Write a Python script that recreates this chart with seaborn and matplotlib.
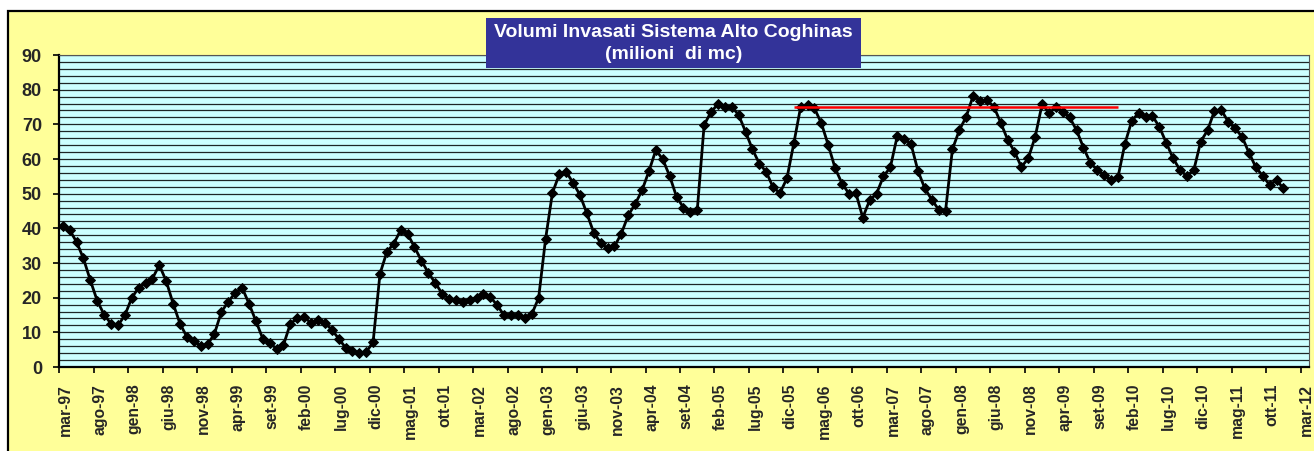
import matplotlib
matplotlib.use("Agg")
import matplotlib.pyplot as plt
import matplotlib.transforms as mtransforms
from matplotlib.patches import Rectangle
import seaborn as sns
import numpy as np
import pandas as pd

# ---- data (monthly volumes, million m3, from mar-97 to dic-11) ----
volumes = [
    40.6, 39.5, 36.1, 31.3, 25.0, 19.1, 15.1, 12.5, 12.0, 14.9,
    19.9, 22.9, 24.1, 25.5, 29.4, 24.8, 18.3, 12.5, 8.7, 7.5,
    6.1, 6.5, 9.6, 15.9, 18.8, 21.4, 22.9, 18.3, 13.3, 8.2,
    6.9, 5.3, 6.3, 12.5, 14.0, 14.4, 12.7, 13.5, 12.7, 10.8,
    8.2, 5.6, 4.6, 3.9, 4.3, 7.2, 26.9, 33.2, 35.6, 39.5,
    38.4, 34.6, 30.7, 27.2, 24.3, 21.2, 19.7, 19.2, 18.8, 19.4,
    19.9, 21.0, 20.2, 17.8, 14.9, 14.9, 14.9, 14.0, 15.2, 19.9,
    36.8, 50.2, 55.6, 56.3, 53.1, 49.6, 44.3, 38.7, 35.8, 34.2,
    34.8, 38.5, 43.8, 47.0, 51.0, 56.5, 62.6, 59.9, 55.1, 49.1,
    46.0, 44.8, 45.2, 69.8, 73.6, 75.8, 74.9, 75.1, 72.7, 67.9,
    62.8, 58.7, 56.3, 51.8, 50.2, 54.4, 64.5, 75.1, 75.6, 74.6,
    70.3, 64.0, 57.3, 52.9, 50.0, 50.2, 43.1, 48.1, 50.0, 55.0,
    57.6, 66.6, 65.9, 64.3, 56.6, 51.5, 48.3, 45.4, 45.0, 62.8,
    68.3, 72.2, 78.2, 76.8, 77.0, 75.1, 70.5, 65.6, 62.1, 57.7,
    60.2, 66.4, 75.8, 73.3, 74.9, 73.6, 72.0, 68.3, 63.3, 58.9,
    56.8, 55.4, 53.9, 54.7, 64.3, 71.0, 73.3, 72.2, 72.4, 69.3,
    64.7, 60.2, 56.8, 55.1, 56.8, 65.0, 68.3, 73.9, 74.1, 70.7,
    68.8, 66.4, 61.8, 57.6, 55.1, 52.5, 53.9, 51.5,
]
tick_labels = [
    "mar-97", "ago-97", "gen-98", "giu-98", "nov-98", "apr-99", "set-99",
    "feb-00", "lug-00", "dic-00", "mag-01", "ott-01", "mar-02", "ago-02",
    "gen-03", "giu-03", "nov-03", "apr-04", "set-04", "feb-05", "lug-05",
    "dic-05", "mag-06", "ott-06", "mar-07", "ago-07", "gen-08", "giu-08",
    "nov-08", "apr-09", "set-09", "feb-10", "lug-10", "dic-10", "mag-11",
    "ott-11", "mar-12",
]
tick_step_months = 5
ref_level = 75.0          # red reference line
ref_start_month = 106     # gen-06 (months after mar-97)
ref_end_month = 153       # dic-09
title_lines = ["Volumi Invasati Sistema Alto Coghinas", "(milioni  di mc)"]

# ---- figure ----
W, H = 1314, 451
sns.set_theme(style="white")
plt.rcParams["font.family"] = ["Liberation Sans", "DejaVu Sans"]
plt.rcParams["font.weight"] = "bold"

fig = plt.figure(figsize=(W / 100, H / 100), dpi=100, facecolor="white")

# outer yellow chart area
fig.patches.append(Rectangle((7.5 / W, -0.05), 1.2, 1 - 10.5 / H + 0.05,
                             transform=fig.transFigure, facecolor="#FFFF99",
                             edgecolor="black", linewidth=1.6, zorder=-1))

left, right, top, bottom = 59.3, 1309, 55, 367
ax = fig.add_axes([left / W, 1 - bottom / H, (right - left) / W, (bottom - top) / H])
ax.set_facecolor("#CCFFFF")

df = pd.DataFrame({"month": np.arange(len(volumes)) + 0.5, "volume": volumes})

# horizontal grid every 2
ax.set_ylim(0, 90)
ax.set_yticks(np.arange(0, 91, 10))
ax.set_yticks(np.arange(0, 91, 2), minor=True)
ax.yaxis.grid(True, which="both", color="black", linewidth=0.9, alpha=0.85)
ax.set_axisbelow(True)

sns.lineplot(data=df, x="month", y="volume", ax=ax, color="black",
             linewidth=2.0, marker="D", markersize=5.0,
             markeredgecolor="black", markeredgewidth=0.7, zorder=3)

ax.hlines(ref_level, ref_start_month + 0.5, ref_end_month + 0.5,
          color="red", linewidth=1.8, zorder=4)

ax.set_xlim(0, 180 + (right - 1300.7) / ((1300.7 - left) / 180))
ax.set_xticks(np.arange(len(tick_labels)) * tick_step_months)
ax.set_xticklabels(tick_labels, rotation=90, fontsize=11.3, fontweight="bold")
ax.set_yticklabels([str(v) for v in range(0, 91, 10)], fontsize=13, fontweight="bold")
ax.set_xlabel("")
ax.set_ylabel("")

ax.tick_params(axis="x", which="major", direction="out", length=4, width=1.2,
               color="black", pad=8, bottom=True)
ax.tick_params(axis="y", which="major", direction="out", length=4, width=1.2,
               color="black", pad=8.5, left=True)
ax.tick_params(axis="y", which="minor", length=0)

shift = mtransforms.ScaledTranslation(6 / 100, 0, fig.dpi_scale_trans)
for lab in ax.get_xticklabels():
    lab.set_transform(lab.get_transform() + shift)

for side in ["left", "bottom"]:
    ax.spines[side].set_color("black")
    ax.spines[side].set_linewidth(1.6)
for side in ["top", "right"]:
    ax.spines[side].set_color("#555555")
    ax.spines[side].set_linewidth(0.8)

# title box
bx0, bx1, by0, by1 = 486, 861, 18.3, 68.3
fig.patches.append(Rectangle((bx0 / W, 1 - by1 / H), (bx1 - bx0) / W, (by1 - by0) / H,
                             transform=fig.transFigure, facecolor="#333399",
                             edgecolor="none", zorder=5))
cx = (bx0 + bx1) / 2 / W
fig.text(cx, 1 - 32.5 / H, title_lines[0], color="white", fontsize=14,
         fontweight="bold", ha="center", va="center", zorder=6)
fig.text(cx, 1 - 54.5 / H, title_lines[1], color="white", fontsize=14,
         fontweight="bold", ha="center", va="center", zorder=6)

fig.savefig("out.png", dpi=100, facecolor=fig.get_facecolor())
